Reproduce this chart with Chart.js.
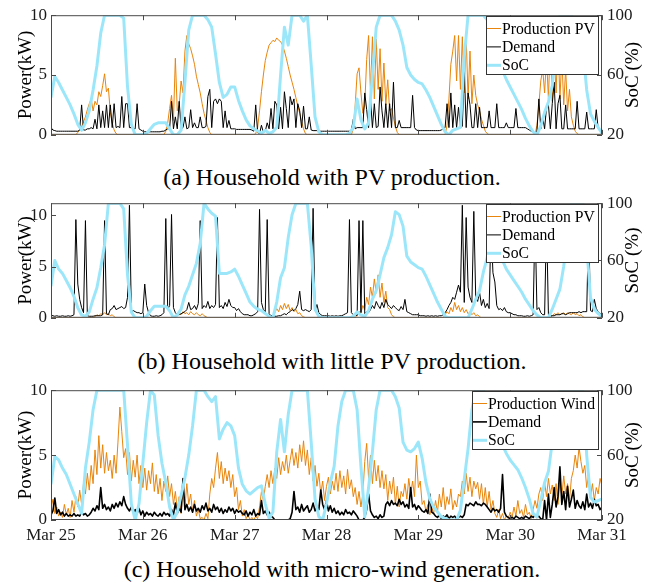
<!DOCTYPE html>
<html>
<head>
<meta charset="utf-8">
<script src="https://cdn.jsdelivr.net/npm/chart.js@4.4.1/dist/chart.umd.min.js"></script>
<style>
  body { margin: 0; background: #fff; }
  #page { position: relative; width: 650px; height: 583px; overflow: hidden; }
  canvas { position: absolute; left: 0; }
  .caption {
    position: absolute; left: 0; width: 664px; text-align: center;
    font-family: "Liberation Serif", "Times New Roman", serif;
    font-size: 24px; line-height: 28px; color: #000;
  }
</style>
</head>
<body>
<div id="page">
  <canvas id="chartA" width="650" height="150" style="top:0"></canvas>
  <div class="caption" style="top:163px">(a) Household with PV production.</div>
  <canvas id="chartB" width="650" height="145" style="top:188px"></canvas>
  <div class="caption" style="top:347px">(b) Household with little PV production.</div>
  <canvas id="chartC" width="650" height="175" style="top:375px"></canvas>
  <div class="caption" style="top:555px">(c) Household with micro-wind generation.</div>
</div>
<script>
// hours since Mar 25 00:00
const dayHours = [0, 24, 48, 72, 96, 120, 144];
const dayLabels = ["Mar 25", "Mar 26", "Mar 27", "Mar 28", "Mar 29", "Mar 30", "Mar 31"];
const kwTicks = [0, 5, 10];
const socTicks = [20, 60, 100];

// power series: one value every 30 min (289 values), SoC: one value per hour (145 values)

// (a) household with PV production
const pvA = [
  0,0,0,0,0, 0,0,0,0,0, 0,0,0,0,
  0.2,0.4,0.7,1.1,1.5,2.1,2.6,3.0,2.0,2.8,2.5,3.6,3.2,4.1,5.1,3.6,3.9,1.9,1.0,0.4,0.1,
  0,0,0,0,0, 0,0,0,0,0, 0,0,0,0,0, 0,0,0,0,0, 0,0,0,0,0,
  0.3,1.0,2.2,3.3,1.2,6.4,2.0,2.5,4.5,3.5,7.0,8.3,7.6,7.2,6.6,5.9,4.9,4.2,3.5,2.6,1.8,1.2,0.6,0.2,
  0,0,0,0,0, 0,0,0,0,0, 0,0,0,0,0, 0,0,0,0,0, 0,0,0,
  0.1,0.6,2.0,3.6,5.0,6.2,6.9,7.5,7.7,7.9,7.8,8.1,7.9,7.8,7.5,7.0,6.4,5.7,5.0,4.4,3.8,3.1,2.4,1.8,1.1,0.5,0.1,
  0,0,0,0,0, 0,0,0,0,0, 0,0,0,0,0, 0,0,0,0,0, 0,0,0,0,
  0.5,2.5,5.1,5.6,3.5,1.8,2.5,6.3,8.3,3.5,8.2,3.0,8.0,3.8,7.2,2.8,6.0,2.5,4.6,2.0,2.2,1.4,0.7,0.2,
  0,0,0,0,0, 0,0,0,0,0, 0,0,0,0,0, 0,0,0,0,0, 0,0,0,0,0,
  0.8,3.0,5.9,7.0,8.3,4.5,8.3,3.8,8.2,3.5,8.3,3.0,7.0,2.6,5.0,3.3,2.5,2.0,1.3,0.8,0.3,0.1,
  0,0,0,0,0, 0,0,0,0,0, 0,0,0,0,0, 0,0,0,0,0, 0,0,0,0,0,
  0.8,2.5,4.5,5.5,3.5,6.5,3.0,7.8,2.8,6.8,3.5,8.0,3.0,6.5,2.5,5.5,2.0,3.8,1.5,0.8,0.3,0.1,
  0,0,0,0,0, 0,0,0,0,0, 0,0,0
];
const demandA = [
  0.6,0.4,0.35,0.3,0.3,0.3,0.3,0.3,0.3,0.3,0.3,0.3,0.3,0.3,0.3,0.4,2.5,0.4,0.4,0.5,0.5,0.6,0.5,1.3,
  0.5,2.5,0.6,2.0,0.6,2.5,0.6,2.5,0.6,2.6,0.6,0.7,0.6,3.2,0.6,2.6,2.6,0.6,0.6,0.5,0.5,2.6,0.5,0.4,
  0.3,0.25,0.25,0.25,0.25,0.25,0.25,0.25,0.25,0.25,0.3,0.3,0.4,0.5,0.5,2.8,0.5,1.5,0.5,2.8,0.5,0.6,1.5,0.5,
  0.6,2.1,0.6,1.0,0.6,0.6,1.5,0.6,0.6,0.7,3.2,3.8,0.6,2.8,3.0,2.6,3.0,2.8,0.6,2.0,0.6,1.2,0.5,0.5,
  0.5,0.45,0.45,0.45,0.45,0.45,0.45,0.45,0.45,0.4,0.3,2.5,0.2,0.1,0.8,0.2,0.3,1.0,0.5,2.2,0.5,2.8,2.5,0.5,
  2.3,0.5,3.6,2.2,0.6,3.2,2.5,3.0,0.6,2.6,2.0,0.6,2.4,0.5,0.5,1.5,0.4,0.35,0.35,0.35,0.3,0.3,0.3,0.3,
  0.3,0.3,0.3,0.3,0.3,0.3,0.3,0.3,0.3,0.3,0.3,0.3,0.3,0.35,1.3,0.5,0.6,0.6,0.6,0.6,3.5,2.1,0.6,3.0,
  0.6,2.6,0.6,0.7,4.0,2.0,0.6,2.6,0.6,2.6,0.6,4.4,0.6,0.6,1.2,0.6,0.6,0.6,0.6,0.6,0.6,3.3,0.6,0.4,
  0.35,0.35,0.35,0.35,0.35,0.35,0.35,0.35,0.35,0.35,0.35,0.35,0.4,0.5,0.6,2.6,0.6,3.5,0.6,2.5,0.6,2.3,0.6,0.7,
  5.6,0.6,3.5,2.5,0.6,0.6,2.6,0.6,2.3,0.6,0.6,0.6,0.6,2.0,0.6,0.6,0.6,2.6,0.6,0.6,0.6,0.6,1.0,0.6,
  0.6,0.6,0.6,2.2,0.6,0.6,0.6,0.6,0.6,0.5,0.4,0.3,0.2,0.1,0.3,3.0,0.5,1.5,0.5,2.3,2.5,0.5,2.6,4.4,
  0.5,2.6,3.3,0.5,0.5,2.5,0.5,0.5,0.5,0.5,0.5,2.8,0.5,0.5,0.5,0.5,1.9,0.5,0.5,0.5,0.5,2.1,0.5,0.4,
  0.4
];
const socA = [
  45,59,55,50,45,40,34,27,23,28,36,50,
  66,88,100,100,100,100,100,98,52,27,20,20,
  20,21,24,27,28,28,28,24,20,20,23,55,
  90,100,100,100,100,97,92,74,55,45,47,52,
  52,43,36,30,26,24,22.5,21,23,21,22,25,
  60,92,80,100,100,100,96,100,67,32,22,20,
  20,20,20,20,20,20,21,25,44,30,24,28,
  60,92,100,100,100,100,96,90,80,65,60,57,
  55,54,50,45,39,33,27,22,20,23,24,25,
  72,100,100,100,100,100,97,88,79,70,63,57,
  52,47,42,37,31,26,22,20,26,35,42,53,
  80,100,100,100,100,95,86,78,50,34,29,25,
  21
];

// (b) household with little PV production
const pvB = [
  0,0,0,0,0, 0,0,0,0,0, 0,0,0,0,0, 0,0,0,0,0, 0,0,0,
  0.1,0.3,0.2,0.4,0.3,0.5,0.3,0.4,0.2,0.3,0.1,0,
  0,0,0,0,0, 0,0,0,0,0, 0,0,0,0,0, 0,0,0,0,0, 0,0,0,0,0, 0,0,0,0,0, 0,
  0.2,0.4,0.3,0.6,0.4,0.5,0.3,0.6,0.4,0.3,0.5,0.3,0.2,0.4,0.2,0.1,
  0,0,0,0,0, 0,0,0,0,0, 0,0,0,0,0, 0,0,0,0,0, 0,0,0,0,0, 0,0,0,0,0, 0,0,0,0,
  0.2,0.5,0.9,0.6,1.2,0.8,1.4,0.9,1.3,0.7,1.0,0.6,0.8,0.4,0.5,0.2,0.1,
  0,0,0,0,0, 0,0,0,0,0, 0,0,0,0,0, 0,0,0,0,0, 0,0,0,0,0, 0,0,
  0.3,0.6,0.5,1.2,0.8,2.0,1.3,3.0,2.0,3.8,2.4,4.2,2.0,3.4,1.5,2.6,1.0,0.8,0.3,0.1,
  0,0,0,0,0, 0,0,0,0,0, 0,0,0,0,0, 0,0,0,0,0, 0,0,0,0,0, 0,
  0.3,0.6,0.4,1.0,0.6,1.5,0.8,1.2,0.6,1.0,0.5,0.8,0.4,0.6,0.3,0.5,0.2,0.3,0.1,
  0,0,0,0,0, 0,0,0,0,0, 0,0,0,0,0, 0,0,0,0,0, 0,0,0,0,0, 0,0,0,0,0, 0,0,0,0,0, 0,0,
  0.2,0.4,0.3,0.5,0.3,0.4,0.5,0.3,0.5,0.4,0.3,0.5,0.3,0.4,0.2,0.3,0.1,
  0,0,0,0,0, 0,0,0,0,0
];
const demandB = [
  0.3,0.2,0.15,0.2,0.15,0.15,0.2,0.15,0.15,0.2,0.15,0.2,0.3,9.6,3.3,1.8,1.0,0.5,9.5,0.2,0.15,0.15,0.15,0.2,
  0.2,0.2,0.2,0.3,9.5,0.4,0.3,0.8,0.9,1.2,0.8,0.9,1.0,1.1,0.9,1.0,2.0,11.0,0.6,0.7,0.6,0.5,0.5,0.4,
  0.5,3.3,1.2,0.5,0.2,0.15,0.15,0.2,0.15,0.2,0.3,0.5,9.7,0.8,1.2,10.1,1.0,0.5,0.3,0.3,0.4,0.5,0.6,0.8,
  1.5,0.8,0.9,1.2,0.8,1.4,9.5,0.9,1.2,1.0,1.6,0.9,1.2,1.0,1.3,9.8,1.0,1.2,0.9,1.5,1.1,1.8,1.2,1.0,
  1.0,0.7,0.9,0.6,0.4,0.3,0.3,0.3,0.2,0.2,0.3,0.4,0.6,10.6,1.5,0.8,0.6,9.6,0.4,0.2,0.2,0.15,0.15,0.2,
  0.2,0.3,0.4,0.3,0.5,0.6,0.8,0.7,0.9,1.3,2.6,0.8,0.7,0.8,0.7,0.6,0.8,10.7,0.7,1.3,0.5,0.3,0.2,0.2,
  0.2,0.2,0.15,0.2,0.15,0.2,0.15,0.2,0.2,0.3,0.4,0.5,9.6,0.5,0.3,0.3,0.2,9.5,0.5,9.5,0.4,0.6,0.5,0.8,
  1.2,0.9,1.6,1.2,0.9,1.5,1.0,1.8,1.3,1.1,0.9,1.2,1.0,0.8,0.7,1.1,0.8,1.8,0.6,0.5,0.4,0.3,0.3,0.3,
  0.3,0.2,0.2,0.2,0.15,0.2,0.15,0.2,0.15,0.2,0.15,0.2,0.2,0.3,0.5,0.8,1.2,1.5,2.0,1.8,2.5,3.2,2.5,11.0,
  1.5,9.8,3.0,2.0,1.5,10.4,2.0,1.6,2.5,1.2,1.8,1.0,1.4,0.9,9.0,4.4,3.5,1.2,0.8,0.9,0.7,1.0,0.6,0.5,
  0.5,0.4,0.3,0.3,0.2,0.2,0.2,0.15,0.15,0.2,0.15,0.2,0.3,9.7,0.8,1.0,0.5,0.3,0.3,9.6,0.3,0.2,0.2,0.2,
  0.3,0.3,0.3,0.4,0.4,0.3,0.4,0.5,0.5,0.5,0.5,0.5,0.6,0.5,0.6,0.6,0.6,9.2,0.7,0.6,1.8,0.9,0.6,0.4,
  0.4
];
const socB = [
  42,60,54,51,46,41,35,27,22,21,24,33,
  41,55,71,100,100,100,100,96,50,24,20,20,
  20,21,25,28,28,28,28,25,20,22,26,36,
  42,50,58,72,100,96,93,91,51,51,51,52,
  54,49,43,37,31,28,26,25,23,21,20,31,
  48,55,76,92,100,100,100,100,70,26,21,20,
  20,20,20,20,20,20,20,21,24,22,21,25,
  33,39,50,62,69,78,94,92,84,63,59,57,
  55,54,49,43,37,31,26,21,20,20,20,20,
  20,20,26,33,39,52,62,85,90,72,60,54,
  50,46,42,38,33,29,25,22,20,20,20,26,
  33,40,56,80,100,100,100,100,70,34,26,23,
  21
];

// (c) household with micro-wind generation
const windC = [
  0.8,1.6,0.5,1.0,0.3,
  0.6,0.2,1.2,0.4,0.9,0.2,1.5,0.6,
  1.8,1.0,2.3,1.2,
  2.8,2.0,3.6,2.3,
  4.2,2.8,5.4,3.5,
  6.5,4.0,5.8,3.6,
  5.2,3.8,4.6,3.2,5.0,3.6,6.0,
  8.7,6.8,4.8,
  5.5,3.5,5.2,3.0,4.6,3.3,5.0,2.8,
  4.2,2.5,4.0,2.3,3.8,2.8,4.4,2.2,3.5,
  2.0,3.2,1.5,3.0,2.2,3.4,1.8,2.8,1.2,
  2.2,0.8,1.8,0.5,2.5,1.0,
  2.8,1.2,2.0,0.6,1.5,0.3,0.8,0.1,
  0.2,0.0,0.5,0.1,2.0,3.2,2.5,4.0,5.2,
  3.2,4.5,2.8,4.0,3.0,3.8,2.5,3.5,
  1.8,2.5,0.8,1.5,
  0.3,0.8,0.1,0.4,0,0.2,0,0.3,0.1,
  1.0,2.2,1.5,2.6,
  3.5,2.5,3.8,2.8,4.0,3.2,
  4.8,3.5,4.5,3.8,5.0,3.6,4.6,
  5.5,4.2,5.2,4.0,5.8,4.5,6.1,4.2,5.4,
  3.5,4.8,3.0,4.2,2.6,3.6,2.0,
  3.0,1.5,2.6,
  3.3,2.0,3.0,2.3,3.6,2.2,3.8,2.5,3.4,2.0,3.9,2.4,3.1,1.8,
  2.5,1.2,2.2,1.0,2.0,
  4.5,5.9,3.2,5.0,2.8,
  4.6,3.0,4.2,2.5,3.8,2.4,3.5,
  1.5,3.0,2.0,3.3,1.2,2.6,1.0,2.2,1.8,2.8,
  1.6,3.2,2.0,3.0,1.8,5.0,2.5,3.0,1.2,
  1.5,0.6,1.2,0.4,1.0,0.5,1.5,
  0.6,2.0,1.0,2.5,0.8,1.8,1.2,2.4,0.8,1.5,1.0,2.0,
  1.8,3.0,2.0,3.6,2.2,3.3,1.8,3.0,2.4,2.9,
  1.6,2.8,1.2,2.5,1.0,2.2,0.8,1.5,0.5,
  0.2,0.8,0.1,0.5,0,0.3,0.1,0.6,0.2,
  1.0,0.3,1.5,0.5,0.8,0.2,1.2,0.4,0.6,0.1,
  0.8,1.5,0.9,2.0,
  2.5,1.5,2.9,1.8,3.2,2.0,2.7,
  1.5,2.8,1.2,3.0,1.8,3.4,2.0,2.8,1.5,3.2,
  3.8,5.0,4.0,5.6,4.5,3.6,4.2,
  2.5,3.5,1.8,2.8,1.5,2.5,2.0,3.2,2.6
];
const demandC = [
  0.4,0.7,1.7,0.5,0.8,0.4,0.6,0.3,0.5,
  0.3,0.4,0.3,0.5,0.3,0.4,0.3,0.6,0.4,0.5,0.3,0.4,
  0.6,0.9,0.7,1.1,0.8,2.5,0.9,1.2,0.8,1.0,0.7,1.2,0.9,1.3,1.0,1.4,1.1,1.8,1.2,0.9,
  0.7,1.0,0.6,0.8,0.5,0.9,0.4,0.7,0.3,0.6,0.4,0.5,0.3,0.6,0.4,0.3,0.5,0.3,0.6,0.4,
  0.5,0.3,0.8,0.4,1.3,0.5,0.9,0.6,3.2,0.8,1.2,0.7,
  1.0,0.6,1.2,0.7,0.9,0.6,1.1,0.8,1.3,0.7,0.9,0.6,1.2,0.8,1.0,0.6,0.9,0.5,0.8,0.6,1.0,0.7,0.9,0.5,0.8,0.6,0.7,0.5,
  0.4,0.7,0.3,0.6,0.4,0.8,0.3,0.5,0.4,1.5,0.5,0.7,0.4,0.6,0.3,0.2,
  0,0,0,0,0,0,0,0,0.1,
  0.6,2.2,0.8,1.0,0.6,1.2,0.7,0.9,1.1,0.6,0.8,1.3,0.7,1.0,0.8,2.3,
  1.2,0.8,1.5,0.7,1.1,0.6,0.9,
  0.5,0.7,0.4,0.6,0.4,0.8,0.5,0.6,0.4,0.7,0.5,0.3,
  0,0,0,0.2,
  0.8,2.0,0.7,0.4,
  0.2,0.3,0.1,0.4,0.2,0.3,
  1.2,1.4,1.1,1.5,1.2,1.3,1.1,1.6,1.2,1.4,1.0,1.2,
  0.9,2.5,1.0,1.2,0.8,1.1,0.9,0.7,
  0.6,0.8,0.5,2.0,0.6,0.5,
  0.3,0.2,0.4,0.1,0.3,0.2,0.4,0.1,0.3,0.2,0.3,0.1,0.2,0.3,0.2,0.4,
  1.2,1.1,1.3,1.2,1.1,1.4,1.2,1.2,1.1,1.3,1.2,1.0,
  0.8,0.6,0.9,0.7,0.8,0.6,0.9,3.5,0.6,
  0.3,0.2,0.1,0.2,0.1,0.3,0.2,0.1,0.2,0.1,0.3,0.2,0.1,0.3,0.2,0.4,0.2,0.3,0.1,
  0,1.5,0,2.0,0.2,1.2,
  2.5,1.0,1.8,4.1,1.2,2.2,0.8,2.6,1.0,1.6,2.3,0.9,1.5,1.1,
  0.9,1.4,0.8,2.0,1.0,1.3,0.9,1.6,1.1,1.2,0.8,1.0
];
const socC = [
  42,59,57,52,48,42,36,30,24,52,68,88,
  100,100,100,100,100,100,100,100,66,30,20,30,
  55,80,100,97,72,55,43,28,20,25,35,46,
  60,78,100,100,100,96,93,96,70,76,80,78,
  72,52,42,38,36,38,40,41,30,21,25,62,
  82,62,85,100,100,100,100,100,68,33,22,20,
  30,43,53,78,93,100,100,100,88,53,22,40,
  62,88,100,100,100,100,96,89,68,63,62,64,
  68,58,43,33,28,25,22,21,20,20,20,26,
  45,64,88,100,100,100,95,88,81,74,66,61,
  57,54,51,46,40,33,24,22,32,43,50,68,
  92,100,100,100,100,100,100,100,60,34,31,32,
  33
];

const SERIF = '"Liberation Serif", "Times New Roman", serif';
const ORANGE = '#e8850c';
const CYAN = '#9ce6fa';

function halfHourly(values) {
  return values.map((v, i) => ({ x: i / 2, y: v }));
}
function hourly(values) {
  return values.map((v, i) => ({ x: i, y: v }));
}

// box, inward ticks, axis titles and the legend, drawn like the matlab figure
const framePlugin = {
  id: 'frame',
  afterDraw(chart) {
    const { ctx, chartArea: a, scales } = chart;
    ctx.save();

    ctx.strokeStyle = '#4a4a4a';
    ctx.lineWidth = 1;
    ctx.strokeRect(a.left + 0.5, a.top + 0.5, a.right - a.left - 1, a.bottom - a.top - 1);
    ctx.beginPath();
    dayHours.forEach(h => {
      const x = Math.round(scales.x.getPixelForValue(h)) + 0.5;
      ctx.moveTo(x, a.top); ctx.lineTo(x, a.top + 5);
      ctx.moveTo(x, a.bottom); ctx.lineTo(x, a.bottom - 5);
    });
    kwTicks.forEach(v => {
      const y = Math.round(scales.y.getPixelForValue(v)) + 0.5;
      ctx.moveTo(a.left, y); ctx.lineTo(a.left + 5, y);
    });
    socTicks.forEach(v => {
      const y = Math.round(scales.soc.getPixelForValue(v)) + 0.5;
      ctx.moveTo(a.right, y); ctx.lineTo(a.right - 5, y);
    });
    ctx.stroke();

    // axis titles, both read bottom to top
    const midY = (a.top + a.bottom) / 2;
    ctx.fillStyle = '#000';
    ctx.font = '19px ' + SERIF;
    ctx.textAlign = 'center';
    ctx.textBaseline = 'middle';
    [['Power(kW)', 26], ['SoC (%)', 633]].forEach(([txt, x]) => {
      ctx.save();
      ctx.translate(x, midY);
      ctx.rotate(-Math.PI / 2);
      ctx.fillText(txt, 0, 0);
      ctx.restore();
    });

    // legend
    const items = chart.data.datasets;
    ctx.font = '15.7px ' + SERIF;
    const textW = Math.max(...items.map(d => ctx.measureText(d.label).width));
    const w = Math.round(16 + textW + 3);
    const h = 58;
    const right = Math.round(a.right - 4);
    const top = Math.round(a.top + 1);
    const left = right - w;
    ctx.fillStyle = '#fff';
    ctx.fillRect(left, top, w, h);
    ctx.strokeStyle = '#333';
    ctx.lineWidth = 1;
    ctx.strokeRect(left + 0.5, top + 0.5, w, h);
    ctx.textAlign = 'left';
    items.forEach((d, i) => {
      const y = top + 12.5 + i * 18.4;
      ctx.strokeStyle = d.borderColor;
      ctx.lineWidth = Math.min(d.borderWidth, 3);
      ctx.beginPath();
      ctx.moveTo(left + 1, y);
      ctx.lineTo(left + 15, y);
      ctx.stroke();
      ctx.fillStyle = '#000';
      ctx.fillText(d.label, left + 16, y + 1);
    });

    ctx.restore();
  }
};

function makeChart(id, cfg) {
  const tickFont = { family: SERIF, size: 17 };
  return new Chart(document.getElementById(id), {
    type: 'line',
    data: {
      datasets: [
        { label: cfg.prodLabel, data: halfHourly(cfg.prod), borderColor: ORANGE, borderWidth: 1, order: 3, yAxisID: 'y' },
        { label: 'Demand', data: halfHourly(cfg.demand), borderColor: '#000', borderWidth: cfg.demandWidth, order: 2, yAxisID: 'y' },
        { label: 'SoC', data: hourly(cfg.soc), borderColor: CYAN, borderWidth: 3, order: 1, yAxisID: 'soc' }
      ]
    },
    options: {
      responsive: false,
      animation: false,
      events: [],
      layout: { padding: { top: cfg.padTop, bottom: cfg.padBottom, left: 0, right: 0 } },
      elements: {
        point: { radius: 0 },
        line: { tension: 0, borderJoinStyle: 'round' }
      },
      plugins: { legend: { display: false }, tooltip: { enabled: false } },
      scales: {
        x: {
          type: 'linear', min: 0, max: 144,
          display: cfg.showDates,
          grid: { display: false, drawTicks: false },
          border: { display: false },
          afterBuildTicks: s => { s.ticks = dayHours.map(v => ({ value: v })); },
          afterFit: s => { s.height = cfg.showDates ? 30 : 0; },
          ticks: {
            autoSkip: false, maxRotation: 0, padding: 5,
            color: '#1a1a1a', font: tickFont,
            callback: (v, i) => dayLabels[i]
          }
        },
        y: {
          position: 'left', min: 0, max: cfg.kwMax,
          grid: { display: false, drawTicks: false },
          border: { display: false },
          afterBuildTicks: s => { s.ticks = kwTicks.map(v => ({ value: v })); },
          afterFit: s => { s.width = 51; },
          ticks: { padding: 4, color: '#1a1a1a', font: tickFont }
        },
        soc: {
          position: 'right', min: 20, max: 100,
          grid: { display: false, drawTicks: false },
          border: { display: false },
          afterBuildTicks: s => { s.ticks = socTicks.map(v => ({ value: v })); },
          afterFit: s => { s.width = 48; },
          ticks: { padding: 5, color: '#1a1a1a', font: tickFont }
        }
      }
    },
    plugins: [framePlugin]
  });
}

makeChart('chartA', { prodLabel: 'Production PV', prod: pvA, demand: demandA, soc: socA,
  demandWidth: 1, kwMax: 10, padTop: 15, padBottom: 9, showDates: false });
makeChart('chartB', { prodLabel: 'Production PV', prod: pvB, demand: demandB, soc: socB,
  demandWidth: 1, kwMax: 11.2, padTop: 14, padBottom: 6, showDates: false });
makeChart('chartC', { prodLabel: 'Production Wind', prod: windC, demand: demandC, soc: socC,
  demandWidth: 1.6, kwMax: 10, padTop: 15, padBottom: 0, showDates: true });
</script>
</body>
</html>
